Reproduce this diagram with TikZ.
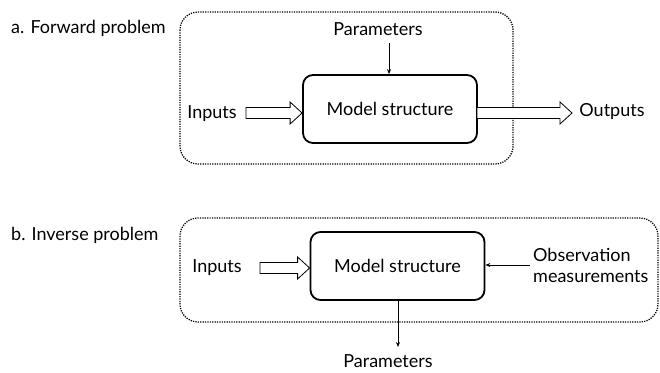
\documentclass[tikz,border=0pt]{standalone}
\usepackage{fontspec}
\setmainfont{Lato}
\usetikzlibrary{calc,arrows.meta}
\begin{document}
\begin{tikzpicture}[x=1pt,y=-1pt,
  every node/.style={font=\fontsize{18}{21}\selectfont, inner sep=0pt},
  frame/.style={draw, line width=1.3pt, dash pattern=on 1.2pt off 1.2pt, rounded corners=18pt},
  modelbox/.style={draw, line width=1.8pt, rounded corners=10pt, minimum width=174pt, minimum height=68pt},
  thinarrow/.style={draw, line width=0.8pt, -{Stealth[length=5pt,width=4pt]}},
  hollow/.style={line width=0.8pt, fill=white, to path={
    let \p1=(\tikztostart), \p2=(\tikztotarget) in
    (\x1,\y1+5.5) -- (\x2-12,\y1+5.5) -- (\x2-12,\y1+11) -- (\x2,\y1)
    -- (\x2-12,\y1-11) -- (\x2-12,\y1-5.5) -- (\x1,\y1-5.5) -- cycle}}
]
\useasboundingbox (0,0) rectangle (660,372);
% ---------- a. forward ----------
\node[anchor=base west] (la) at (11,33) {a. Forward problem};
\draw[frame] (180,12) rectangle (513,164);
\node[modelbox] (m1) at (390,109) {Model structure};
\node (p1) at (378,29) {Parameters};
\node (i1) at (212,114) {Inputs};
\node (o1) at (612,112) {Outputs};
\coordinate (i1s) at (246,113);
\coordinate (o1s) at (477,113);
\coordinate (o1e) at (572,113);
\coordinate (p1s) at (389,43);
\draw[hollow] (i1s) to (m1.west |- i1s);
\draw[hollow] (o1s) to (o1e);
\draw[thinarrow] (p1s) -- (p1s |- m1.north);
% ---------- b. inverse ----------
\node[anchor=base west] (lb) at (11,240) {b. Inverse problem};
\draw[frame] (180,218) rectangle (658,322);
\node[modelbox] (m2) at (397.5,266) {Model structure};
\node (i2) at (217,268) {Inputs};
\node[align=left, anchor=west] (ob) at (533,265) {Observation\\measurements};
\node (p2) at (388,361) {Parameters};
\coordinate (i2s) at (260,268);
\coordinate (obs) at (530,265);
\coordinate (p2e) at (398,347);
\draw[hollow] (i2s) to (m2.west |- i2s);
\draw[thinarrow] (obs) -- (m2.east |- obs);
\draw[thinarrow] (p2e |- m2.south) -- (p2e);
\end{tikzpicture}
\end{document}
